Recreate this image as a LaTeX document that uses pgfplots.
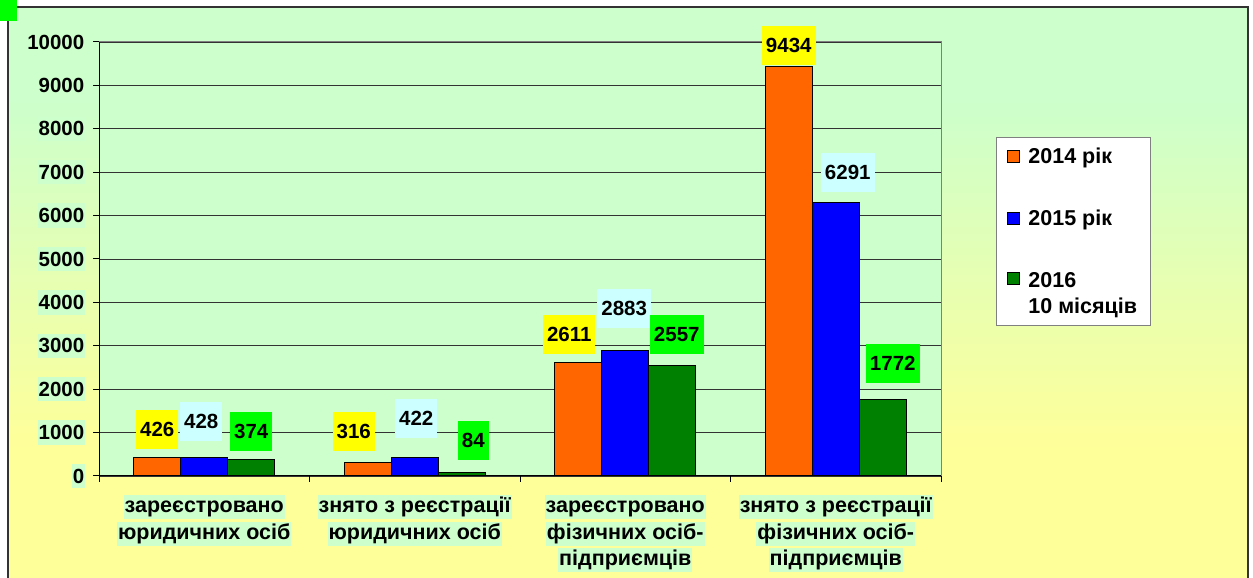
\documentclass[border=0pt]{standalone}
\usepackage{pgfplots}
\pgfplotsset{compat=1.18}
\usepackage{pgfplotstable}
\usepackage{fontspec}
\setmainfont{Liberation Sans}
\definecolor{cOr}{HTML}{FF6600}
\definecolor{cBl}{HTML}{0000FF}
\definecolor{cGr}{HTML}{008000}
\definecolor{lGreen}{HTML}{CCFFCC}
\definecolor{lYellow}{HTML}{FFFF99}
\definecolor{labY}{HTML}{FFFF00}
\definecolor{labC}{HTML}{CCFFFF}
\definecolor{labG}{HTML}{00FF00}
\newcommand\cb[1]{{\setlength\fboxsep{0pt}\colorbox{lGreen}{\rule[-6.5pt]{0pt}{24pt}\hspace{1pt}#1\hspace{1pt}}}}

\pgfplotstableread{
x y dx dy
0 426 0 28
1 316 -14 31
2 2611 -9 28.5
3 9434 0 21
}\tabA
\pgfplotstableread{
x y dx dy
0 428 -3 36
1 422 1.5 39.5
2 2883 -1 42
3 6291 12 30.5
}\tabB
\pgfplotstableread{
x y dx dy
0 374 0 28.5
1 84 11.5 32
2 2557 4.5 31
3 1772 10 36
}\tabC

\pgfplotsset{
  mybar/.style={fill=#1, draw=black, line width=1pt,
    visualization depends on={\thisrow{dx} \as \dx},
    visualization depends on={\thisrow{dy} \as \dy},
    nodes near coords,
    every node near coord/.append style={anchor=center, inner xsep=4pt, inner ysep=0pt,
      minimum height=39pt, xshift=\dx pt, yshift=\dy pt, text=black, draw=none},
  },
}

\begin{document}
\begin{tikzpicture}[font=\fontsize{20.5}{24}\selectfont\bfseries]
\useasboundingbox (0,0) rectangle (1253pt,578pt);
\fill[white] (0,0) rectangle (1253pt,578pt);
\fill[lGreen] (8pt,478pt) rectangle (1248pt,571pt);
\shade[top color=lGreen, bottom color=lYellow] (8pt,128pt) rectangle (1248pt,478.5pt);
\fill[lYellow] (8pt,-10pt) rectangle (1248pt,128.5pt);
\draw[black!80, line width=2pt] (8pt,-10pt) rectangle (1248pt,571pt);
\fill[labG] (0pt,578pt) rectangle (17pt,557pt);
\begin{axis}[
  at={(99pt,102pt)}, anchor=south west,
  width=842pt, height=434pt, scale only axis,
  xmin=-0.5, xmax=3.5, ymin=0, ymax=10000,
  ybar=0pt, bar width=47pt,
  clip=false,
  axis background/.style={fill=lGreen, draw=black!50, line width=1pt},
  axis x line*=bottom, axis y line*=left,
  axis line style={black, line width=1pt},
  ytick={0,1000,...,10000},
  scaled y ticks=false,
  ymajorgrids, major grid style={black!80, line width=0.8pt},
  tick align=outside, major tick length=6pt, minor tick length=6pt,
  tick style={black, line width=1pt},
  xtick={0,1,2,3}, minor xtick={-0.5,0.5,1.5,2.5,3.5},
  major x tick style={draw=none},
  xticklabels={
    {\cb{зареєстровано}\\\cb{юридичних осіб}},
    {\cb{знято з реєстрації}\\\cb{юридичних осіб}},
    {\cb{зареєстровано}\\\cb{фізичних осіб-}\\\cb{підприємців}},
    {\cb{знято з реєстрації}\\\cb{фізичних осіб-}\\\cb{підприємців}}},
  xticklabel style={align=center, font=\fontsize{21.5}{26.5}\selectfont\bfseries, inner sep=0pt, yshift=-13pt},
  yticklabel style={fill=lGreen, inner xsep=1pt, inner ysep=5pt, xshift=-7.5pt},
  /pgf/number format/assume math mode=true,
  /pgf/number format/1000 sep={},
  legend style={at={(1.0653,0.7811)}, anchor=north west, draw=black!50, line width=0.8pt,
    fill=white, inner xsep=11pt, inner ysep=8.5pt, row sep=41pt, column sep=6pt,
    cells={anchor=west, align=left, inner ysep=2pt},
    font=\fontsize{21.5}{26}\selectfont\bfseries},
]
\addplot[mybar=cOr, every node near coord/.append style={fill=labY},
  legend image code/.code={\draw[fill=cOr, draw=black, line width=1pt] (0pt,-6pt) rectangle (12pt,6pt);}]
  table[x=x,y=y] {\tabA};
\addplot[mybar=cBl, every node near coord/.append style={fill=labC},
  legend image code/.code={\draw[fill=cBl, draw=black, line width=1pt] (0pt,-6pt) rectangle (12pt,6pt);}]
  table[x=x,y=y] {\tabB};
\addplot[mybar=cGr, every node near coord/.append style={fill=labG},
  legend image code/.code={\path[draw=none, fill=none] (0pt,-21pt) -- (0pt,21pt); \draw[fill=cGr, draw=black, line width=1pt] (0pt,9pt) rectangle (12pt,21pt);}]
  table[x=x,y=y] {\tabC};
\legend{2014 рік, 2015 рік, {2016\\10 місяців}}
\end{axis}
\end{tikzpicture}
\end{document}
